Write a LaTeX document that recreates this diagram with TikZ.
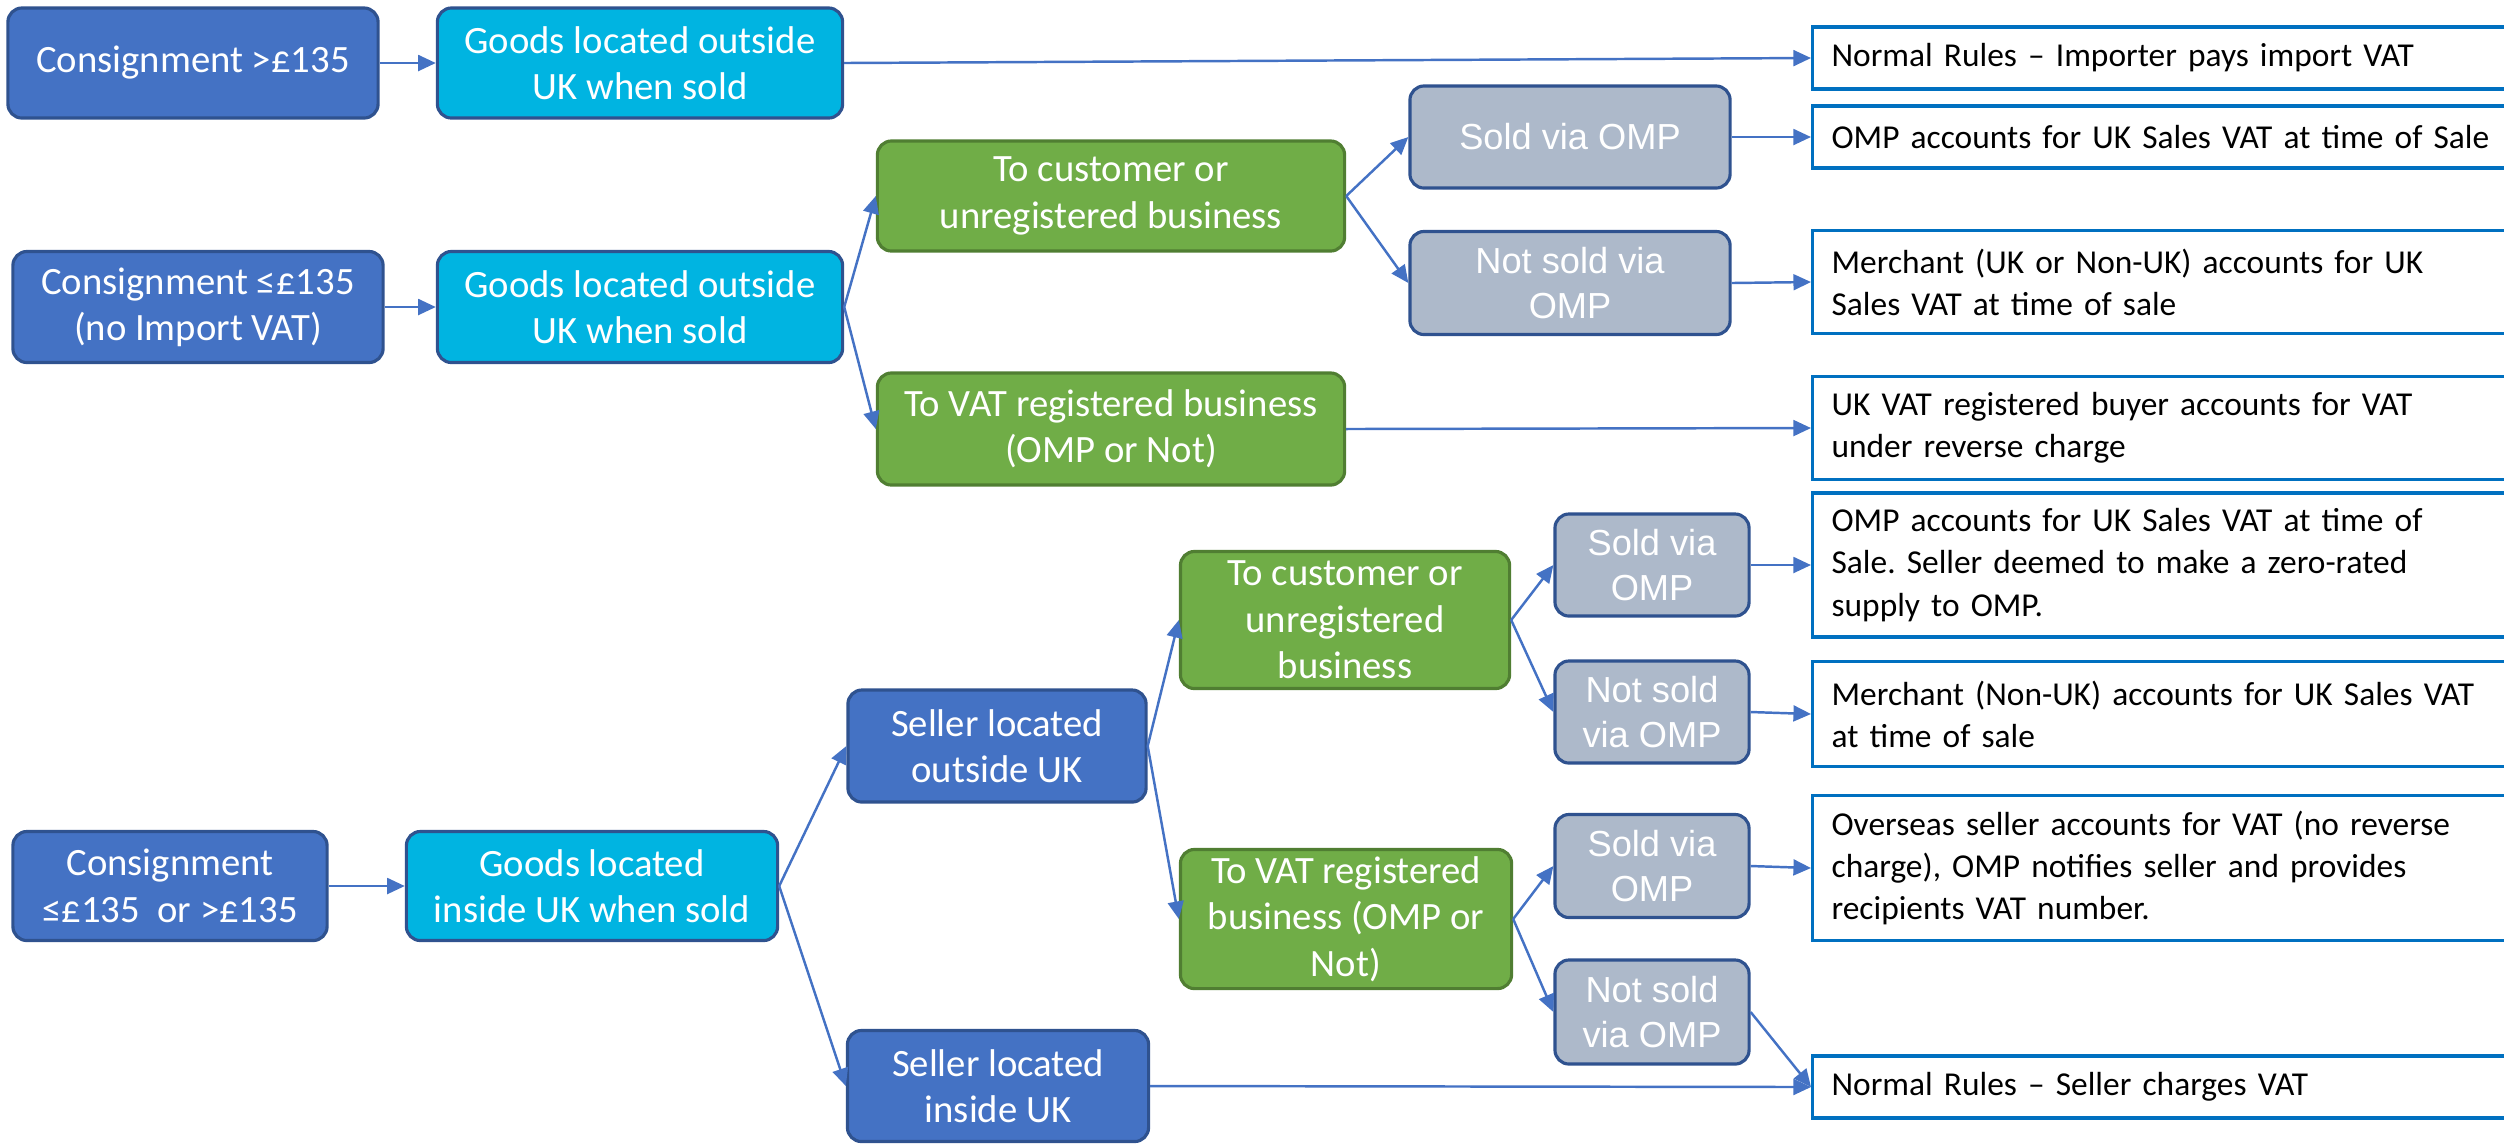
\documentclass[tikz,border=0pt]{standalone}
\usepackage{fontspec}
\setmainfont{Carlito}
\newfontfamily\arialfont{Liberation Sans}
\usepackage{tikz}
\usetikzlibrary{arrows.meta}
\frenchspacing
\definecolor{vatblue}{HTML}{4472C4}
\definecolor{vatnavy}{HTML}{2F528F}
\definecolor{vatcyan}{HTML}{00B4E1}
\definecolor{vatgreen}{HTML}{70AD47}
\definecolor{vatmoss}{HTML}{507E32}
\definecolor{vatgrey}{HTML}{ADB9CA}
\definecolor{vatline}{HTML}{0070C0}
\tikzset{
    box/.style={rounded corners=4pt,line width=0.9pt,align=center,text=white,inner sep=2pt,
        font=\fontsize{11}{13.2}\selectfont},
    stage/.style={box,draw=vatnavy,fill=vatblue},
    goods/.style={box,draw=vatnavy,fill=vatcyan},
    route/.style={box,draw=vatmoss,fill=vatgreen},
    omp/.style={box,draw=vatnavy,fill=vatgrey,font=\arialfont\fontsize{10.3}{12.8}\selectfont},
    outcome/.style={draw=vatline,line width=0.9pt,fill=white,anchor=west,align=left,
        inner xsep=0.19cm,text width=6.82cm,font=\fontsize{9.5}{12}\selectfont},
    flow/.style={draw=vatblue,line width=0.7pt,-{Triangle[length=5pt,width=4.5pt]}},
}
\begin{document}
\begin{tikzpicture}[x=0.01cm,y=-0.01cm]
    \path[use as bounding box] (0,0) rectangle (2504,1144);
    \clip (0,0) rectangle (2504,1144);
    % over 135
    \node[stage,minimum width=3.70cm,minimum height=1.10cm] (big) at (193,63) {Consignment >£135};
    \node[goods,minimum width=4.05cm,minimum height=1.10cm] (goodsout) at (640,63) {Goods located outside\\UK when sold};
    \node[outcome,minimum height=0.62cm] (importer) at (1811,58) {Normal Rules -- Importer pays import VAT};
    % up to 135
    \node[stage,minimum width=3.70cm,minimum height=1.11cm] (small) at (198,307) {Consignment ≤£135\\(no Import VAT)};
    \node[goods,minimum width=4.05cm,minimum height=1.11cm] (goodsout2) at (640,307) {Goods located outside\\UK when sold};
    \node[route,minimum width=4.67cm,minimum height=1.10cm] (cust) at (1111,196) {To customer or\\unregistered business};
    \node[route,minimum width=4.67cm,minimum height=1.12cm] (reg) at (1111,429) {To VAT registered business\\(OMP or Not)};
    \node[omp,minimum width=3.20cm,minimum height=1.02cm] (via) at (1570,137) {Sold via OMP};
    \node[omp,minimum width=3.20cm,minimum height=1.03cm] (notvia) at (1570,283) {Not sold via\\OMP};
    \node[outcome,minimum height=0.62cm] (ompsale) at (1811,137) {OMP accounts for UK Sales VAT at time of Sale};
    \node[outcome,minimum height=1.03cm] (merchant) at (1811,282) {Merchant (UK or Non-UK) accounts for UK\\Sales VAT at time of sale};
    \node[outcome,minimum height=1.03cm] (reverse) at (1811,428) {UK VAT registered buyer accounts for VAT\\under reverse charge};
    % goods in the UK
    \node[stage,minimum width=3.14cm,minimum height=1.09cm] (any) at (170,886) {Consignment\\≤£135\ \ or >£135};
    \node[goods,minimum width=3.71cm,minimum height=1.09cm] (goodsin) at (592,886) {Goods located\\inside UK when sold};
    \node[stage,minimum width=2.98cm,minimum height=1.12cm] (sellerout) at (997,746) {Seller located\\outside UK};
    \node[stage,minimum width=3.01cm,minimum height=1.11cm] (sellerin) at (998,1086) {Seller located\\inside UK};
    \node[route,minimum width=3.29cm,minimum height=1.37cm] (cust2) at (1345,620) {To customer or\\unregistered\\business};
    \node[route,minimum width=3.31cm,minimum height=1.36cm] (reg2) at (1346,919) {To VAT registered\\business (OMP or\\Not)};
    \node[omp,minimum width=1.94cm,minimum height=1.02cm] (via2) at (1652,565) {Sold via\\OMP};
    \node[omp,minimum width=1.94cm,minimum height=1.02cm] (notvia2) at (1652,712) {Not sold\\via OMP};
    \node[omp,minimum width=1.94cm,minimum height=1.03cm] (via3) at (1652,866) {Sold via\\OMP};
    \node[omp,minimum width=1.94cm,minimum height=1.04cm] (notvia3) at (1652,1012) {Not sold\\via OMP};
    \node[outcome,minimum height=1.44cm] (zerorated) at (1811,565) {OMP accounts for UK Sales VAT at time of\\Sale. Seller deemed to make a zero-rated\\supply to OMP.};
    \node[outcome,minimum height=1.05cm] (nonuk) at (1811,714) {Merchant (Non-UK) accounts for UK Sales VAT\\at time of sale};
    \node[outcome,minimum height=1.45cm] (overseas) at (1811,868) {Overseas seller accounts for VAT (no reverse\\charge), OMP notifies seller and provides\\recipients VAT number.};
    \node[outcome,minimum height=0.62cm] (sellervat) at (1811,1087) {Normal Rules -- Seller charges VAT};

    \draw[flow] (big)--(goodsout);
    \draw[flow] (goodsout.east)--(importer.west);
    \draw[flow] (small)--(goodsout2);
    \draw[flow] (goodsout2.east)--(cust.west);
    \draw[flow] (goodsout2.east)--(reg.west);
    \draw[flow] (cust.east)--(via.west);
    \draw[flow] (cust.east)--(notvia.west);
    \draw[flow] (via.east)--(ompsale.west);
    \draw[flow] (notvia.east)--(merchant.west);
    \draw[flow] (reg.east)--(reverse.west);
    \draw[flow] (any)--(goodsin);
    \draw[flow] (goodsin.east)--(sellerout.west);
    \draw[flow] (goodsin.east)--(sellerin.west);
    \draw[flow] (sellerout.east)--(cust2.west);
    \draw[flow] (sellerout.east)--(reg2.west);
    \draw[flow] (cust2.east)--(via2.west);
    \draw[flow] (cust2.east)--(notvia2.west);
    \draw[flow] (via2.east)--(zerorated.west);
    \draw[flow] (notvia2.east)--(nonuk.west);
    \draw[flow] (reg2.east)--(via3.west);
    \draw[flow] (reg2.east)--(notvia3.west);
    \draw[flow] (via3.east)--(overseas.west);
    \draw[flow] (notvia3.east)--(sellervat.west);
    \draw[flow] (sellerin.east)--(sellervat.west);
\end{tikzpicture}
\end{document}
